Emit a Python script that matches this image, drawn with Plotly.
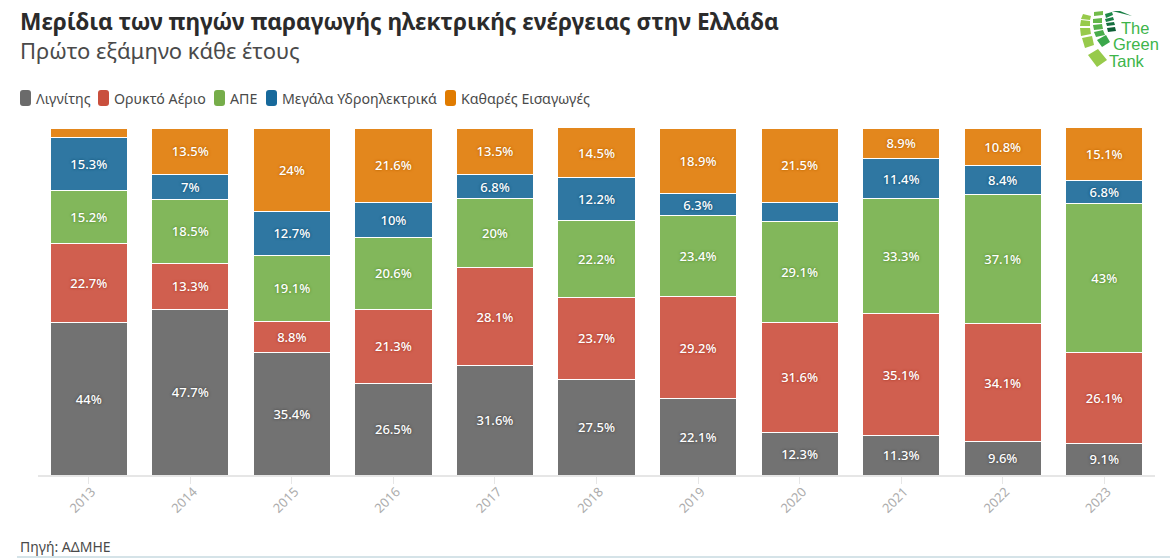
import plotly.graph_objects as go

years = ['2013', '2014', '2015', '2016', '2017', '2018', '2019', '2020', '2021', '2022', '2023']
lignite = [44, 47.7, 35.4, 26.5, 31.6, 27.5, 22.1, 12.3, 11.3, 9.6, 9.1]
natural_gas = [22.7, 13.3, 8.8, 21.3, 28.1, 23.7, 29.2, 31.6, 35.1, 34.1, 26.1]
renewables = [15.2, 18.5, 19.1, 20.6, 20, 22.2, 23.4, 29.1, 33.3, 37.1, 43]
hydro = [15.3, 7, 12.7, 10, 6.8, 12.2, 6.3, 5.5, 11.4, 8.4, 6.8]
net_imports = [2.8, 13.5, 24, 21.6, 13.5, 14.5, 18.9, 21.5, 8.9, 10.8, 15.1]

series_names = ['Λιγνίτης', 'Ορυκτό Αέριο', 'ΑΠΕ', 'Μεγάλα Υδροηλεκτρικά', 'Καθαρές Εισαγωγές']
series_values = [lignite, natural_gas, renewables, hydro, net_imports]
bar_colors = ['#727272', '#D05F4F', '#82B75B', '#2F77A2', '#E3871D']
swatch_colors = ['#6B6B6B', '#C94F3D', '#76AD4A', '#17699B', '#E07B00']
shadow_colors = ['#4f4f4f', '#b0402f', '#5f9438', '#17587f', '#c06a05']
legend_x = [20, 98, 214, 266, 445]

FONT = 'Noto Sans'
W, H = 1170, 558
M_L, M_R, M_T, M_B = 38, 15, 128, 83


def paper_x(px):
    return (px - M_L) / (W - M_L - M_R)


def paper_y(py):
    return 1 - (py - M_T) / (H - M_T - M_B)


def label(v):
    # the small segments have no label in the original
    return f'{v:g}%' if v >= 6 else ''


def polygon(points, color):
    path = 'M' + ' L'.join(f'{paper_x(x)},{paper_y(y)}' for x, y in points) + ' Z'
    return dict(type='path', xref='paper', yref='paper', path=path, fillcolor=color, line_width=0)


def swatch(x0, y0, x1, y1, r, color):
    xa, xb, ya, yb = paper_x(x0), paper_x(x1), paper_y(y0), paper_y(y1)
    rx, ry = paper_x(x0 + r) - xa, paper_y(y0) - paper_y(y0 + r)
    path = (f'M{xa + rx},{ya} L{xb - rx},{ya} Q{xb},{ya} {xb},{ya - ry} L{xb},{yb + ry} '
            f'Q{xb},{yb} {xb - rx},{yb} L{xa + rx},{yb} Q{xa},{yb} {xa},{yb + ry} '
            f'L{xa},{ya - ry} Q{xa},{ya} {xa + rx},{ya} Z')
    return dict(type='path', xref='paper', yref='paper', path=path, fillcolor=color, line_width=0)


fig = go.Figure()

for name, values, color, shadow in zip(series_names, series_values, bar_colors, shadow_colors):
    fig.add_trace(go.Bar(
        x=years,
        y=values,
        name=name,
        marker=dict(color=color, line=dict(color='#ffffff', width=1)),
        text=[label(v) for v in values],
        textposition='inside',
        insidetextanchor='middle',
        textangle=0,
        constraintext='none',
        textfont=dict(family=FONT, size=13, color='#ffffff', weight=500,
                      shadow=f'0 0 2px {shadow}, 0 0 3px {shadow}'),
        hoverinfo='x+y+name',
    ))

shapes = [polygon([(17, 556), (1170, 556), (1170, 558), (17, 558)], '#D5E3E8')]
annotations = [
    dict(text='<b>Μερίδια των πηγών παραγωγής ηλεκτρικής ενέργειας στην Ελλάδα</b>',
         x=paper_x(18), y=paper_y(22), font=dict(size=22.7, color='#2b2b2b')),
    dict(text='Πρώτο εξάμηνο κάθε έτους',
         x=paper_x(18), y=paper_y(50), font=dict(size=22, color='#4a4a4a')),
    dict(text='Πηγή: ΑΔΜΗΕ',
         x=paper_x(18), y=paper_y(546), font=dict(size=14, color='#4a4a4a')),
]

# legend is drawn by hand, the swatches are small rounded bars
for name, color, x in zip(series_names, swatch_colors, legend_x):
    shapes.append(swatch(x, 90, x + 11, 106, 3, color))
    annotations.append(dict(text=name, x=paper_x(x + 14), y=paper_y(98.5),
                            font=dict(size=14.2, color='#4a4a4a')))

# logo
logo_tiles = [
    ([(1083, 14), (1091, 16), (1090, 20), (1081, 19)], '#97CA4B'),
    ([(1081, 20), (1090, 21), (1090, 26), (1080, 26)], '#97CA4B'),
    ([(1080, 28), (1090, 28), (1091, 34), (1081, 36)], '#97CA4B'),
    ([(1082, 38), (1092, 36), (1094, 45), (1085, 48)], '#97CA4B'),
    ([(1088, 55), (1098, 49), (1107, 60), (1097, 67)], '#97CA4B'),
    ([(1094, 12), (1103, 11), (1103, 15), (1094, 16)], '#72BC4A'),
    ([(1093, 19), (1102, 18), (1102, 23), (1093, 23)], '#62B64A'),
    ([(1093, 25), (1102, 24), (1103, 29), (1094, 30)], '#55B14A'),
    ([(1094, 32), (1103, 30), (1105, 35), (1096, 37)], '#48AC4A'),
    ([(1097, 40), (1106, 35), (1110, 42), (1102, 47)], '#3BA74A'),
    ([(1105, 14), (1112, 12), (1113, 15), (1106, 18)], '#1E8A4A'),
    ([(1105, 19), (1113, 17), (1114, 20), (1106, 22)], '#1A7F45'),
    ([(1106, 23), (1114, 22), (1115, 25), (1107, 26)], '#146F3E'),
    ([(1107, 28), (1115, 27), (1116, 31), (1108, 32)], '#0F5F36'),
    ([(1112, 11), (1120, 11), (1132, 16), (1120, 13)], '#1A7F45'),
]
for points, color in logo_tiles:
    shapes.append(polygon(points, color))
for word, x, y in [('The', 1120, 27), ('Green', 1112, 44), ('Tank', 1108, 60)]:
    annotations.append(dict(text=word, x=paper_x(x), y=paper_y(y), height=13, borderpad=0,
                            font=dict(family='Liberation Sans', size=16.5, color='#3DB54A')))

for a in annotations:
    a.update(xref='paper', yref='paper', xanchor='left', yanchor='middle', showarrow=False)

fig.update_layout(
    barmode='stack',
    bargap=0.24,
    width=W,
    height=H,
    margin=dict(l=M_L, r=M_R, t=M_T, b=M_B, pad=0),
    paper_bgcolor='#ffffff',
    plot_bgcolor='#ffffff',
    font=dict(family=FONT),
    showlegend=False,
    shapes=shapes,
    annotations=annotations,
    xaxis=dict(
        type='category',
        tickangle=-45,
        tickfont=dict(family=FONT, size=13, color='#adadad'),
        ticks='outside',
        ticklen=7,
        tickwidth=1,
        tickcolor='#e6e6e6',
        ticklabelstandoff=-5,
        ticklabelshift=3,
        showline=True,
        linecolor='#e6e6e6',
        linewidth=2,
        showgrid=False,
    ),
    yaxis=dict(range=[0, 100], visible=False, fixedrange=True),
)

fig.write_html('out.html', config={'displayModeBar': False},
               post_script="document.body.style.margin='0';document.body.style.overflow='hidden';")
